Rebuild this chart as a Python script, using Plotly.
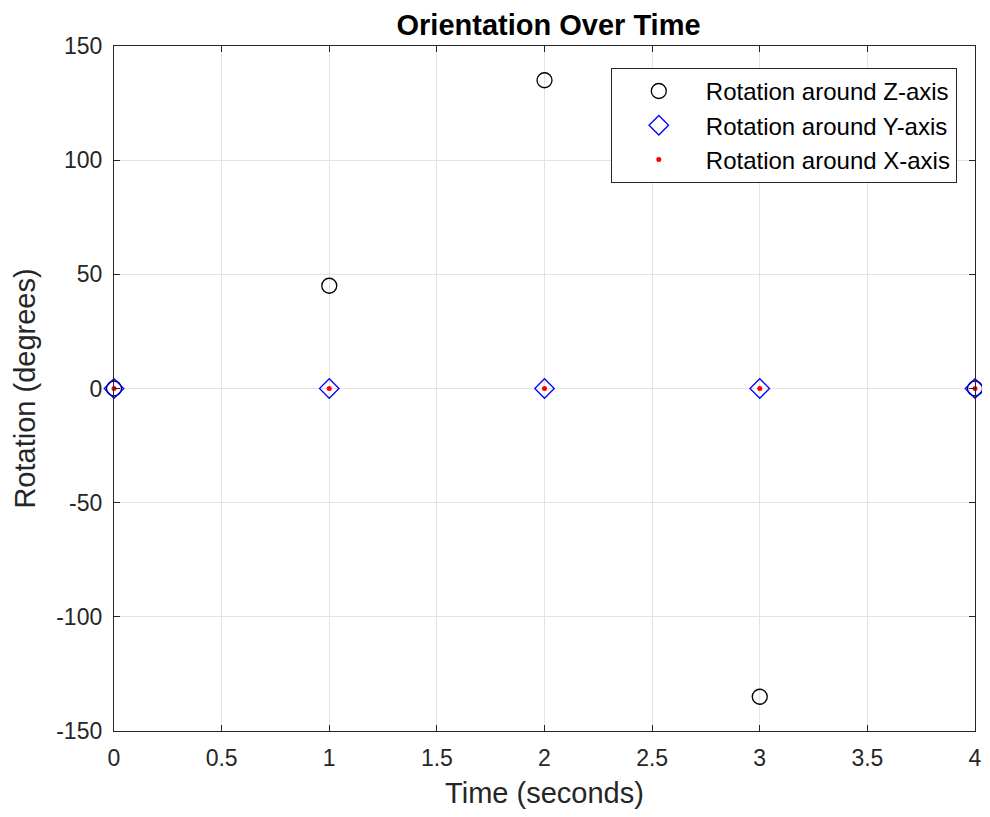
import plotly.graph_objects as go

time_s = [0, 1, 2, 3, 4]
rot_z = [0, 45, 135, -135, 0]
rot_y = [0, 0, 0, 0, 0]
rot_x = [0, 0, 0, 0, 0]

x_ticks = [0, 0.5, 1, 1.5, 2, 2.5, 3, 3.5, 4]
x_tick_labels = ["0", "0.5", "1", "1.5", "2", "2.5", "3", "3.5", "4"]
y_ticks = [-150, -100, -50, 0, 50, 100, 150]
y_tick_labels = ["-150", "-100", "-50", "0", "50", "100", "150"]

font_family = "Liberation Sans, Arial, sans-serif"
axis_color = "#262626"

fig = go.Figure()
fig.add_trace(go.Scatter(x=time_s, y=rot_z, mode="markers", name="Rotation around Z-axis",
                         cliponaxis=False,
                         marker=dict(symbol="circle-open", size=15, color="black", line=dict(width=1.3))))
fig.add_trace(go.Scatter(x=time_s, y=rot_y, mode="markers", name="Rotation around Y-axis",
                         cliponaxis=False,
                         marker=dict(symbol="diamond-open", size=15, color="blue", line=dict(width=1.3))))
fig.add_trace(go.Scatter(x=time_s, y=rot_x, mode="markers", name="Rotation around X-axis",
                         cliponaxis=False,
                         marker=dict(symbol="circle", size=5, color="red")))

axis_common = dict(showgrid=True, gridcolor="#e3e3e3", gridwidth=1, zeroline=False,
                   showline=True, linecolor=axis_color, linewidth=1.3, mirror="ticks",
                   ticks="inside", ticklen=6, tickcolor=axis_color, automargin=False,
                   ticklabeloverflow="allow",
                   tickfont=dict(family=font_family, size=23, color=axis_color))

fig.update_layout(
    width=974, height=801,
    margin=dict(l=106, r=7, t=38, b=78),
    paper_bgcolor="white", plot_bgcolor="white",
    title=dict(text="<b>Orientation Over Time</b>", xref="container", x=0.555, xanchor="center",
               yref="container", y=0.979, yanchor="middle",
               font=dict(family=font_family, size=29, color="black")),
    xaxis=dict(range=[0, 4], tickvals=x_ticks, ticktext=x_tick_labels, ticklabelstandoff=6,
               title=dict(text="Time (seconds)", standoff=22,
                          font=dict(family=font_family, size=29, color=axis_color)), **axis_common),
    yaxis=dict(range=[-150, 150], tickvals=y_ticks, ticktext=y_tick_labels, ticklabelstandoff=6,
               title=dict(text="Rotation (degrees)", standoff=12,
                          font=dict(family=font_family, size=29, color=axis_color)), **axis_common),
    legend=dict(x=0.577, y=0.968, xanchor="left", yanchor="top", bgcolor="white",
                bordercolor=axis_color, borderwidth=1,
                font=dict(family=font_family, size=24, color="black"),
                itemwidth=84),
    showlegend=True,
)

fig.write_html("out.html")
